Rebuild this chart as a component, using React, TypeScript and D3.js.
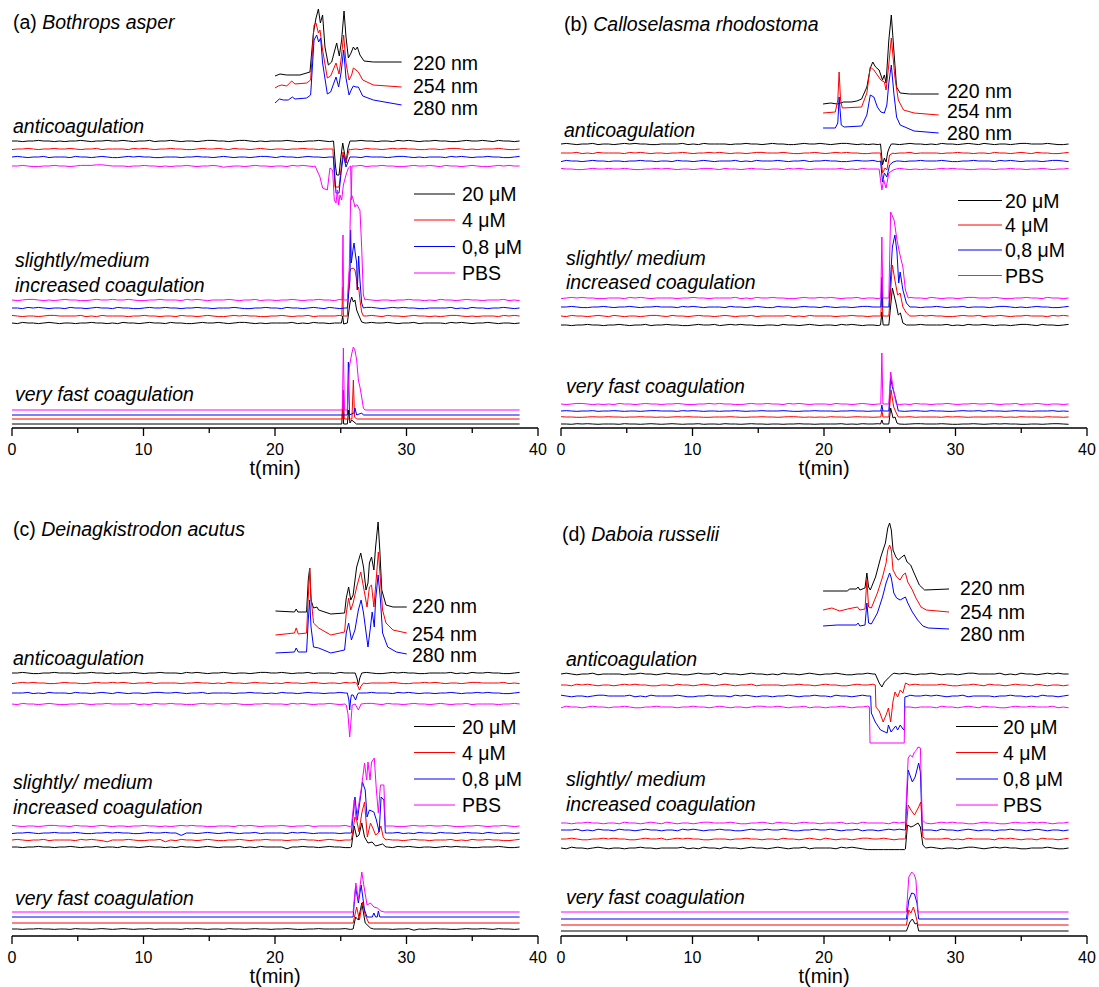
import React from 'react';
import * as d3 from 'd3';

type Pt = [number, number];

// time axis (min) and trace end
const T_END = 38.6;
const xTicks = [0, 5, 10, 15, 20, 25, 30, 35, 40];
const COLORS = ['#000000', '#ff0000', '#0000ff', '#ff00ff'];
const uvLabels = ['220 nm', '254 nm', '280 nm'];
const concLabels = ['20 \u03bcM', '4 \u03bcM', '0,8 \u03bcM', 'PBS'];
const panelTags = ['(a)', '(b)', '(c)', '(d)'];
const speciesNames = ['Bothrops asper', 'Calloselasma rhodostoma', 'Deinagkistrodon acutus', 'Daboia russelii'];
const slightLabels = ['slightly/medium', 'slightly/ medium', 'slightly/ medium', 'slightly/ medium'];

// ---------- (a) Bothrops asper ----------
const aUV: Pt[][] = [
  [[20.0,352],[20.38,354],[20.89,353],[21.9,353],[22.66,356],[22.92,395],[23.12,410],[23.3,419],[23.45,405],[23.62,413],[23.8,381],[24.06,363],[24.31,366],[24.69,385],[24.89,372],[25.07,388],[25.25,417],[25.4,391],[25.58,370],[25.78,375],[25.96,381],[26.11,378],[26.26,381],[26.46,373],[26.77,367],[27.48,366],[29.63,366]],
  [[20.0,340],[20.25,342],[20.51,343],[20.89,342],[21.27,347],[21.52,344],[22.41,345],[22.71,348],[22.97,403],[23.12,405],[23.3,395],[23.42,398],[23.62,378],[23.98,350],[24.23,352],[24.64,365],[24.87,354],[25.02,368],[25.22,393],[25.4,365],[25.63,348],[25.83,353],[25.96,360],[26.16,358],[26.34,356],[26.67,348],[27.48,343],[29.63,341]],
  [[20.0,325],[20.33,329],[20.63,328],[21.01,328],[21.32,331],[21.52,329],[22.41,330],[22.71,333],[22.97,388],[23.17,393],[23.32,386],[23.47,390],[23.62,365],[23.98,334],[24.23,336],[24.64,351],[24.84,341],[25.02,355],[25.22,378],[25.4,350],[25.63,333],[25.83,339],[25.96,342],[26.16,341],[26.34,341],[26.67,332],[27.48,328],[29.63,323]],
];
const aAntiBase = [287, 279, 271, 262];
const aAntiNoise = [
  '5545565545 4556545565 5654556455 6545545665 5456654545 5565445565 4655456554 5546565455 6554456556 5465545',
  '4556545565 5654556455 5546565455 6554456556 5465545654 5545565545 5556454655 4565655445 5456654545 5565445',
  '5654556455 5465545654 4565655445 5545565545 6545545665 4655456554 5556454655 5456654545 5546565455 6554456',
  '5565445565 5456667765 5545565545 4556545565 3455456554 5546565455 5654556455 6554456556 5465545654 4565655',
];
const aAntiPeaks: Pt[][] = [
  [[24.45,287],[24.6,262],[24.69,253],[24.87,253],[25.0,270],[25.15,285],[25.28,275],[25.4,265],[25.55,280],[25.7,287]],
  [[24.4,279],[24.56,241],[24.87,241],[25.05,262],[25.17,276],[25.4,266],[25.65,279]],
  [[24.45,271],[24.64,235],[24.87,235],[25.05,258],[25.2,273],[25.4,261],[25.7,271]],
  [[23.05,262],[23.25,256],[23.42,251],[23.62,240],[23.98,238],[24.18,260],[24.38,258],[24.51,228],[24.64,225],[24.74,238],[24.84,223],[24.94,233],[25.07,228],[25.2,243],[25.4,253],[25.58,260],[25.75,262],[25.8,228],[25.85,262]],
];
const aSlightBase = [105, 112, 120, 128];
const aSlightNoise = [
  '5465545654 5545565545 4655456554 6554456556 5456654545 5556454655 4556545565 5654556455 5546565455 6545545',
  '6545545665 5556454655 5545565545 5465545654 4565655445 5654556455 5565445565 4655456554 5456654545 5546565',
  '5546565455 4655456554 6554456556 5545565545 5565445565 5465545654 6545545665 4565655445 5556454655 4556545',
  '5456654545 6554456556 5565445565 5546565455 5654556455 4556545565 5465545654 5545565545 4655456554 5556454',
];
const aSlightPeaks: Pt[][] = [
  [[25.05,105],[25.15,112],[25.22,104],[25.5,105],[25.7,125],[25.83,131],[25.96,126],[26.08,128],[26.21,118],[26.36,113],[26.59,106],[26.84,105]],
  [[25.08,112],[25.15,141],[25.2,112],[25.5,112],[25.65,155],[25.75,159],[25.96,160],[26.08,158],[26.21,148],[26.26,138],[26.36,141],[26.46,128],[26.59,116],[26.72,112]],
  [[25.5,120],[25.7,148],[25.75,198],[25.8,165],[25.96,181],[26.01,185],[26.1,175],[26.21,165],[26.26,138],[26.29,148],[26.36,172],[26.46,148],[26.59,125],[26.72,120]],
  [[25.1,128],[25.17,193],[25.22,128],[25.5,128],[25.65,161],[25.75,228],[25.83,233],[25.96,228],[26.08,221],[26.16,223],[26.26,223],[26.36,220],[26.46,218],[26.59,181],[26.72,133],[26.84,128]],
];
const aFastBase = [4, 9, 13, 18];
const aFastPeaks: Pt[][] = [
  [[25.08,4],[25.15,28],[25.22,4],[25.5,4],[25.6,18],[25.7,5],[25.83,8],[26.2,4]],
  [[25.12,9],[25.2,38],[25.27,9],[25.85,9],[25.96,48],[26.05,11],[26.2,9]],
  [[25.5,13],[25.58,66],[25.66,13],[26.0,15],[26.08,20],[26.21,13],[26.59,15],[26.72,13]],
  [[25.12,18],[25.2,80],[25.28,18],[25.5,18],[25.65,61],[25.83,74],[25.96,81],[26.08,78],[26.21,68],[26.34,48],[26.46,41],[26.59,31],[26.72,20],[26.84,18]],
];

// ---------- (b) Calloselasma rhodostoma ----------
const bUV: Pt[][] = [
  [[19.93,324],[20.5,325],[21.0,324],[21.5,326],[22.06,326],[22.5,327],[22.86,329],[23.26,341],[23.52,360],[23.71,366],[23.92,361],[24.19,358],[24.45,348],[24.59,353],[24.72,345],[24.93,388],[25.12,413],[25.31,378],[25.52,341],[25.79,335],[26.5,334],[28.72,334]],
  [[19.93,315],[20.86,316],[21.05,328],[21.15,356],[21.26,328],[21.39,320],[22.86,321],[23.26,335],[23.52,361],[23.79,358],[24.06,353],[24.32,348],[24.59,346],[24.72,338],[24.91,361],[25.12,390],[25.39,351],[25.65,328],[26.05,318],[26.85,315],[28.72,313]],
  [[19.93,300],[20.86,300],[21.05,305],[21.15,331],[21.31,303],[21.53,301],[22.86,302],[23.26,313],[23.52,333],[23.79,331],[24.06,321],[24.32,316],[24.59,315],[24.78,323],[24.93,345],[25.12,363],[25.31,335],[25.52,311],[25.79,303],[26.85,297],[28.72,295]],
];
const bAntiBase = [284, 275, 267, 259];
const bAntiNoise = [
  '5654556455 4565655445 5556454655 5545565545 6554456556 5456654545 4655456554 5465545654 6545545665 5565445',
  '5556454655 5546565455 4556545565 6545545665 5565445565 4565655445 5654556455 5545565545 5465545654 6554456',
  '4655456554 5545565545 5465545654 5556454655 5654556455 6554456556 4556545565 5565445565 5546565455 5456654',
  '6554456556 5565445565 6545545665 4655456554 5546565455 5556454655 5456654545 4565655445 5545565545 5654556',
];
const bAntiPeaks: Pt[][] = [
  [[24.3,284],[24.45,263],[24.59,270],[24.72,266],[24.85,276],[24.99,281],[25.12,284]],
  [[24.3,275],[24.45,255],[24.64,260],[24.78,258],[24.99,273],[25.25,275]],
  [[24.3,267],[24.45,246],[24.59,255],[24.78,251],[24.99,263],[25.25,266],[25.52,267]],
  [[24.19,259],[24.4,238],[24.54,248],[24.72,240],[24.93,255],[25.25,258],[25.5,259]],
];
const bSlightBase = [103, 112, 121, 130];
const bSlightNoise = [
  '5545565545 5654556455 6554456556 4565655445 5465545654 5546565455 4556545565 5556454655 6545545665 4655456',
  '5465545654 6545545665 4655456554 5654556455 5556454655 5545565545 5565445565 6554456556 4556545565 5546565',
  '5565445565 4556545565 5546565455 5465545654 4655456554 6545545665 5545565545 5654556455 5456654545 6554456',
  '4565655445 5546565455 5545565545 5556454655 6554456556 5654556455 4655456554 6545545665 5565445565 5465545',
];
const bSlightPeaks: Pt[][] = [
  [[24.3,103],[24.4,116],[24.5,103],[24.93,103],[25.2,140],[25.47,125],[25.65,113],[25.81,115],[26.0,105],[26.27,103]],
  [[24.32,112],[24.4,135],[24.48,112],[24.93,112],[25.2,163],[25.39,148],[25.6,133],[25.79,135],[26.0,121],[26.27,115],[26.53,112]],
  [[24.32,121],[24.4,151],[24.48,121],[24.93,121],[25.2,181],[25.39,193],[25.55,176],[25.68,145],[25.79,156],[26.0,138],[26.27,125],[26.53,121]],
  [[24.32,130],[24.4,191],[24.48,130],[24.93,130],[25.07,216],[25.33,208],[25.55,188],[25.73,176],[25.87,168],[26.0,161],[26.19,138],[26.4,130]],
];
const bFastBase = [4, 11, 17, 24];
const bFastNoise = [
  '5546565455 5465545654 5654556455 4655456554 5545565545 5556454655 6545545665 5565445565 4565655445 5456654',
  '6554456556 5545565545 4565655445 5565445565 5456654545 4655456554 5654556455 5546565455 5556454655 5465545',
  '5654556455 6545545665 5546565455 4556545565 5565445565 5545565545 5465545654 6554456556 4655456554 5556454',
  '5456654545 4655456554 5565445565 6554456556 5546565455 5465545654 5556454655 4556545565 5654556455 6545545',
];
const bFastPeaks: Pt[][] = [
  [[24.3,4],[24.4,8],[24.5,4],[24.93,4],[25.07,20],[25.25,10],[25.4,11],[25.55,5],[25.7,4]],
  [[24.32,11],[24.4,18],[24.48,11],[24.93,11],[25.1,38],[25.3,21],[25.5,15],[25.65,11]],
  [[24.32,17],[24.4,23],[24.48,17],[24.93,17],[25.07,50],[25.2,41],[25.33,35],[25.47,28],[25.65,17]],
  [[24.32,24],[24.4,75],[24.48,24],[24.93,24],[25.07,56],[25.2,45],[25.33,35],[25.5,24]],
];

// ---------- (c) Deinagkistrodon acutus ----------
const cUV: Pt[][] = [
  [[20.04,325],[21.48,324],[21.61,327],[21.74,324],[22.4,324],[22.53,356],[22.64,368],[22.74,336],[22.93,328],[23.19,329],[23.32,326],[24.24,322],[25.29,323],[25.42,338],[25.6,349],[25.76,336],[25.94,341],[26.21,369],[26.52,383],[26.73,369],[26.92,346],[27.07,353],[27.18,373],[27.34,379],[27.52,366],[27.65,389],[27.84,414],[27.97,386],[28.12,346],[28.44,331],[28.97,329],[30.02,329]],
  [[20.04,301],[21.48,303],[21.61,308],[21.77,302],[22.4,303],[22.53,339],[22.64,368],[22.74,339],[22.93,313],[23.32,308],[24.24,301],[25.29,304],[25.42,323],[25.6,338],[25.76,326],[25.94,333],[26.21,349],[26.52,364],[26.73,349],[27.0,329],[27.18,349],[27.34,351],[27.52,329],[27.71,359],[27.86,384],[28.02,356],[28.18,326],[28.44,313],[28.97,306],[30.02,303]],
  [[20.04,283],[21.48,284],[21.61,288],[21.77,284],[22.4,284],[22.53,316],[22.64,336],[22.74,309],[22.93,289],[23.32,288],[24.24,283],[25.29,286],[25.42,303],[25.6,313],[25.81,296],[26.08,306],[26.34,326],[26.55,336],[26.73,323],[27.07,289],[27.26,309],[27.39,324],[27.55,309],[27.65,336],[27.84,361],[28.02,336],[28.18,303],[28.57,289],[29.23,284],[30.02,282]],
];
const cAntiBase = [263, 253, 243, 232];
const cAntiNoise = [
  '5565445565 5545565545 4556545565 5546565455 6545545665 5654556455 5465545654 4565655445 5556454655 6554456',
  '4565655445 6554456556 5654556455 5545565545 4655456554 5465545654 5546565455 5565445565 6545545665 5556454',
  '5556454655 5465545654 6545545665 5654556455 5545565545 4655456554 5565445565 5546565455 4556545565 6554456',
  '5465545654 4556545565 5556454655 6554456556 5565445565 5546565455 6545545665 4655456554 5654556455 5545565',
];
const cAntiPeaks: Pt[][] = [
  [[26.1,263],[26.25,257],[26.34,251],[26.45,258],[26.6,263]],
  [[26.21,253],[26.42,246],[26.55,250],[26.73,253]],
  [[25.5,243],[25.62,236],[25.68,226],[25.75,236],[25.81,241],[25.94,241],[26.05,238],[26.13,236],[26.25,241],[26.34,243]],
  [[25.42,231],[25.55,222],[25.68,199],[25.78,215],[25.87,231],[26.1,232],[26.34,226],[26.55,232]],
];
const cSlightBase = [89, 96, 103, 110];
const cSlightNoise = [
  '5545565545 5654556455 4655456554 5465545654 5556454655 5525565545 6554456556 5546565455 4565655445 5565445',
  '5654556455 5546565425 5565445562 5465545654 4556545565 5545565545 6545545665 4655456554 5556454655 6554456',
  '4556545565 5565445565 6554456556 5515545654 5654556455 5546565455 5545565545 5556454655 4655456554 6545545',
  '6545545665 5465545654 5545565545 4565655445 5546565455 5654556455 5556454655 6554456556 5565445565 4556545',
];
const cSlightPeaks: Pt[][] = [
  [[25.81,89],[26.02,110],[26.21,99],[26.39,101],[26.6,113],[26.81,99],[27.07,93],[27.39,94],[27.65,90],[28.18,92],[28.44,89]],
  [[25.81,96],[26.08,119],[26.21,116],[26.39,104],[26.6,123],[26.81,134],[27.02,99],[27.26,113],[27.44,108],[27.65,101],[27.86,103],[28.05,110],[28.23,99],[28.44,96]],
  [[25.81,103],[26.08,139],[26.26,116],[26.47,136],[26.65,154],[26.86,146],[27.0,119],[27.18,126],[27.52,124],[27.71,116],[27.92,104],[28.07,139],[28.28,136],[28.39,103]],
  [[25.81,110],[26.02,136],[26.18,116],[26.34,129],[26.55,146],[26.81,173],[26.97,156],[27.07,174],[27.23,156],[27.34,174],[27.55,178],[27.71,146],[27.86,123],[28.02,151],[28.28,151],[28.39,110]],
];
const cFastBase = [7, 13, 19, 24];
const cFastNoise = [
  '5545565545 5465545654 5654556455 5546565455 4655456554 5565445565 5556454655 5545562545 6554456556 5465545',
  '', '', '',
];
const cFastPeaks: Pt[][] = [
  [[25.94,7],[26.13,19],[26.34,16],[26.6,33],[26.86,13],[27.26,8],[27.5,7]],
  [[25.94,13],[26.21,29],[26.42,16],[26.65,34],[26.86,21],[27.13,13]],
  [[25.94,19],[26.13,49],[26.34,33],[26.55,51],[26.81,26],[27.0,19],[27.4,19],[27.52,23],[27.65,19],[27.78,19],[27.86,25],[27.97,19]],
  [[25.94,24],[26.15,53],[26.34,36],[26.6,64],[26.81,46],[27.0,31],[27.26,33],[27.52,29],[27.78,28],[28.05,25],[28.31,24]],
];

// ---------- (d) Daboia russelii ----------
const dUV: Pt[][] = [
  [[19.93,345],[21.79,345],[21.93,347],[22.46,347],[22.59,349],[22.73,346],[23.12,348],[23.26,363],[23.39,349],[23.52,346],[23.92,359],[24.32,379],[24.67,393],[24.85,408],[24.99,413],[25.12,406],[25.25,386],[25.47,379],[25.65,376],[25.92,379],[26.11,381],[26.32,374],[26.59,371],[26.85,363],[27.25,351],[27.65,346],[29.51,347]],
  [[19.93,326],[20.6,328],[21.2,325],[21.79,327],[22.54,329],[22.73,326],[23.12,327],[23.26,356],[23.39,329],[23.6,328],[24.06,343],[24.45,359],[24.72,373],[24.85,386],[24.99,391],[25.12,386],[25.25,366],[25.52,359],[25.79,356],[26.0,361],[26.19,363],[26.37,354],[26.72,346],[26.99,338],[27.38,329],[27.78,326],[29.51,324]],
  [[19.93,310],[21.0,311],[22.46,311],[22.59,313],[22.73,310],[23.12,311],[23.26,333],[23.39,313],[23.6,312],[24.06,323],[24.45,339],[24.72,353],[24.99,363],[25.12,358],[25.31,343],[25.52,338],[25.79,336],[26.19,339],[26.37,333],[26.72,324],[27.12,316],[27.52,310],[27.92,308],[29.51,307]],
];
const dAntiBase = [262, 251, 240, 229];
const dAntiNoise = [
  '5654556455 5545565545 6554456556 4655456554 5465545654 5565445565 5546565455 6545545665 5556454655 4565655',
  '5546565455 4565655445 5465545654 5654556455 5545565545 6554456556 5556454655 5565445565 4655456554 6545545',
  '6545545665 5556454655 5565445565 5546565455 4556545565 5465545654 6554456556 5654556455 5545565545 4655456',
  '4655456554 5565445565 5545565545 6545545665 5654556455 4556545565 5546565455 5465545654 6554456556 5556454',
];
const dAntiPeaks: Pt[][] = [
  [[23.9,262],[24.2,253],[24.4,249],[24.6,254],[24.9,258],[25.2,262]],
  [[23.9,251],[23.95,229],[24.2,225],[24.5,214],[24.75,222],[24.9,228],[25.07,214],[25.25,235],[25.4,244],[25.6,239],[25.8,246],[26.0,243],[26.2,253],[26.5,251]],
  [[23.55,240],[23.6,223],[23.9,214],[24.3,206],[24.8,203],[24.9,211],[25.1,204],[25.45,210],[25.6,206],[25.8,211],[26.0,207],[26.1,206],[26.15,239],[26.4,240]],
  [[23.45,229],[23.5,193],[26.1,193],[26.15,229]],
];
const dSlightBase = [88, 97, 106, 113];
const dSlightNoise = [
  '5465545654 5545565545 5556454655 4655456554 5654556455 5546565433 3333335565 6545545665 4565655445 5565445',
  '5565445565 6554456556 4565655445 5545565545 5465545654 6545545665 5654556455 5556454655 5546565455 4655456',
  '5556454655 4655456554 5546565455 6554456556 5565445565 5654556455 4565655445 5465545654 5545565545 6545545',
  '5545565545 5465545654 6545545665 5565445565 4655456554 5556454655 5546565455 4565655445 6554456556 5654556',
];
const dSlightPeaks: Pt[][] = [
  [[26.19,87],[26.35,111],[26.61,109],[26.8,110],[27.15,113],[27.33,109],[27.52,91],[27.73,88]],
  [[26.19,97],[26.4,131],[26.61,126],[26.88,121],[27.2,129],[27.36,134],[27.52,99],[27.73,97]],
  [[26.19,106],[26.4,166],[26.53,161],[26.72,154],[26.93,159],[27.2,173],[27.33,164],[27.47,106]],
  [[26.19,113],[26.4,178],[26.56,181],[26.72,179],[26.88,184],[27.04,186],[27.15,189],[27.33,188],[27.47,116],[27.73,113]],
];
const dFastBase = [5, 11, 17, 24];
const dFastPeaks: Pt[][] = [
  [[26.27,5],[26.53,14],[26.72,17],[26.93,12],[27.07,13],[27.2,5]],
  [[26.27,11],[26.45,26],[26.61,23],[26.8,29],[26.93,23],[27.15,11]],
  [[26.27,17],[26.45,36],[26.67,43],[26.88,42],[27.07,33],[27.2,17]],
  [[26.27,24],[26.45,59],[26.67,64],[26.88,61],[26.99,56],[27.15,24]],
];

const FONT = '"Liberation Sans", Arial, sans-serif';

// baseline samples (noise digits, 5 = level) joined with the peak points
function buildTrace(base: number, noise: string, amp: number, peaks: Pt[]): Pt[] {
  const digits = (noise || '55').replace(/\s/g, '');
  const n = digits.length;
  const t0 = peaks[0][0];
  const t1 = peaks[peaks.length - 1][0];
  const out: Pt[] = [];
  for (let i = 0; i < n; i++) {
    const t = (i * T_END) / (n - 1);
    if (t >= t0 - 0.05 && t <= t1 + 0.05) continue;
    out.push([t, base + (+digits[i] - 5) * amp]);
  }
  return out.concat(peaks).sort((p, q) => p[0] - q[0]);
}

type Group = { base: number[]; noise: string[]; amp: number[]; peaks: Pt[][] };

const panels = [
  {
    uv: aUV,
    groups: [
      { base: aAntiBase, noise: aAntiNoise, amp: [0.6, 0.6, 0.6, 0.6], peaks: aAntiPeaks },
      { base: aSlightBase, noise: aSlightNoise, amp: [0.6, 0.6, 0.6, 0.6], peaks: aSlightPeaks },
      { base: aFastBase, noise: ['', '', '', ''], amp: [0, 0, 0, 0], peaks: aFastPeaks },
    ],
    lay: { x0: 12, x1: 538, axisY: 428, title: [13, 29], uvX: 413, uvY: [70, 93, 115], anti: [13, 133], slight: [15, 267], incr: [15, 292], fast: [15, 401], legX: [414, 455, 462], legY: [194, 220, 246.5, 273] },
  },
  {
    uv: bUV,
    groups: [
      { base: bAntiBase, noise: bAntiNoise, amp: [0.6, 0.6, 0.6, 0.6], peaks: bAntiPeaks },
      { base: bSlightBase, noise: bSlightNoise, amp: [0.6, 0.6, 0.6, 0.6], peaks: bSlightPeaks },
      { base: bFastBase, noise: bFastNoise, amp: [0.3, 0.3, 0.35, 0.55], peaks: bFastPeaks },
    ],
    lay: { x0: 561, x1: 1087, axisY: 428, title: [564, 31], uvX: 947, uvY: [98, 118, 140], anti: [564, 137], slight: [566, 265], incr: [566, 289], fast: [566, 393], legX: [958, 1002, 1005], legY: [200.5, 225, 250, 275.5] },
  },
  {
    uv: cUV,
    groups: [
      { base: cAntiBase, noise: cAntiNoise, amp: [0.6, 0.6, 0.6, 0.6], peaks: cAntiPeaks },
      { base: cSlightBase, noise: cSlightNoise, amp: [0.6, 0.6, 0.6, 0.6], peaks: cSlightPeaks },
      { base: cFastBase, noise: cFastNoise, amp: [0.4, 0, 0, 0], peaks: cFastPeaks },
    ],
    lay: { x0: 12, x1: 538, axisY: 936, title: [13, 536], uvX: 412, uvY: [613, 641, 662], anti: [13, 665], slight: [13, 789], incr: [13, 814], fast: [15, 905], legX: [414, 455, 462], legY: [726.5, 752.5, 779, 805] },
  },
  {
    uv: dUV,
    groups: [
      { base: dAntiBase, noise: dAntiNoise, amp: [0.8, 0.8, 0.8, 0.8], peaks: dAntiPeaks },
      { base: dSlightBase, noise: dSlightNoise, amp: [0.8, 0.8, 0.8, 0.8], peaks: dSlightPeaks },
      { base: dFastBase, noise: ['', '', '', ''], amp: [0, 0, 0, 0], peaks: dFastPeaks },
    ],
    lay: { x0: 561, x1: 1087, axisY: 936, title: [562, 541], uvX: 960, uvY: [595, 619, 641], anti: [566, 666], slight: [566, 786], incr: [566, 811], fast: [566, 904], legX: [956, 998, 1003], legY: [726.5, 752.5, 779, 805] },
  },
];

function Panel({ idx }: { idx: number }) {
  const { uv, groups, lay } = panels[idx];
  const x = d3.scaleLinear().domain([0, 40]).range([lay.x0, lay.x1]);
  const y = d3.scaleLinear().domain([0, 100]).range([lay.axisY, lay.axisY - 100]);
  const line = d3.line<Pt>().x(d => x(d[0])).y(d => y(d[1]));
  const txt = { fontFamily: FONT, fontSize: 19.5, fill: '#000' } as const;

  return (
    <g>
      <text x={lay.title[0]} y={lay.title[1]} {...txt}>
        {panelTags[idx] + ' '}
        <tspan fontStyle="italic">{speciesNames[idx]}</tspan>
      </text>

      {uv.map((pts, i) => (
        <path key={'uv' + i} d={line(pts) || ''} fill="none" stroke={COLORS[i]} strokeWidth={1} />
      ))}
      {uvLabels.map((l, i) => (
        <text key={l} x={lay.uvX} y={lay.uvY[i]} {...txt}>{l}</text>
      ))}

      {(groups as Group[]).map((g, gi) =>
        g.base.map((b, i) => (
          <path
            key={gi + '-' + i}
            d={line(buildTrace(b, g.noise[i], g.amp[i], g.peaks[i])) || ''}
            fill="none"
            stroke={COLORS[i]}
            strokeWidth={1}
            strokeLinejoin="round"
          />
        ))
      )}

      <text x={lay.anti[0]} y={lay.anti[1]} {...txt} fontStyle="italic">anticoagulation</text>
      <text x={lay.slight[0]} y={lay.slight[1]} {...txt} fontStyle="italic">{slightLabels[idx]}</text>
      <text x={lay.incr[0]} y={lay.incr[1]} {...txt} fontStyle="italic">increased coagulation</text>
      <text x={lay.fast[0]} y={lay.fast[1]} {...txt} fontStyle="italic">very fast coagulation</text>

      {concLabels.map((l, i) => (
        <g key={l}>
          <line x1={lay.legX[0]} x2={lay.legX[1]} y1={lay.legY[i]} y2={lay.legY[i]} stroke={COLORS[i]} strokeWidth={1} />
          <text x={lay.legX[2]} y={lay.legY[i] + 7} {...txt}>{l}</text>
        </g>
      ))}

      {/* x axis */}
      <line x1={x(0)} x2={x(40)} y1={lay.axisY} y2={lay.axisY} stroke="#000" strokeWidth={1.3} />
      {xTicks.map(t => (
        <line key={t} x1={x(t)} x2={x(t)} y1={lay.axisY} y2={lay.axisY + (t % 10 === 0 ? 8 : 5)} stroke="#000" strokeWidth={1.3} />
      ))}
      {xTicks.filter(t => t % 10 === 0).map(t => (
        <text key={'l' + t} x={x(t)} y={lay.axisY + 27} textAnchor="middle" fontFamily={FONT} fontSize={16}>{t}</text>
      ))}
      <text x={x(20)} y={lay.axisY + 47} textAnchor="middle" fontFamily={FONT} fontSize={20}>t(min)</text>
    </g>
  );
}

export default function App() {
  return (
    <svg width={1099} height={987} style={{ position: 'absolute', left: 0, top: 0, background: '#fff' }}>
      <rect width={1099} height={987} fill="#fff" />
      {panels.map((_, i) => <Panel key={i} idx={i} />)}
    </svg>
  );
}
